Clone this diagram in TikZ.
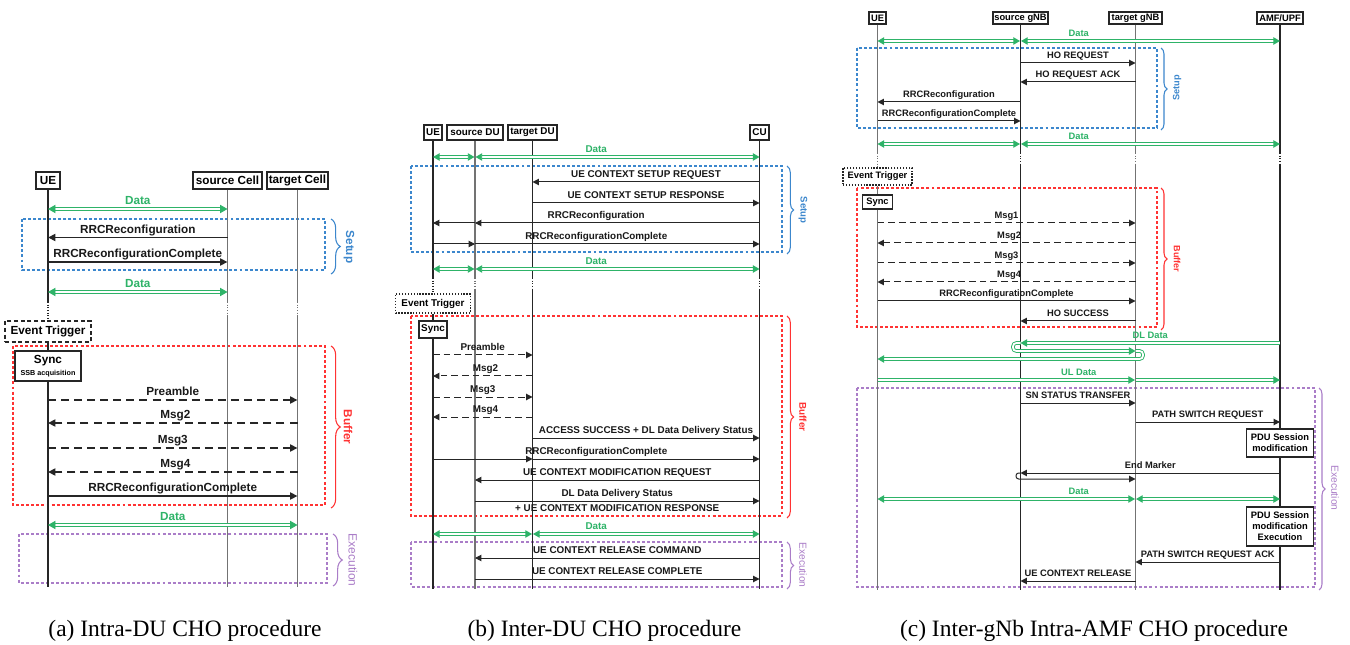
\documentclass[tikz,border=0pt]{standalone}
\usepackage{fontspec}
\setmainfont{Liberation Sans}
\newfontfamily\capfont{Liberation Serif}
\usetikzlibrary{arrows.meta,decorations.pathreplacing}
\definecolor{cgreen}{RGB}{46,179,104}
\definecolor{cblue}{RGB}{60,135,205}
\definecolor{cred}{RGB}{255,51,51}
\definecolor{cpurple}{RGB}{170,125,200}
\newcommand\fA{\fontsize{8.8}{10}\selectfont\bfseries}
\newcommand\fB{\fontsize{7.4}{8.5}\selectfont\bfseries}
\newcommand\fC{\fontsize{7}{8.2}\selectfont\bfseries}
\tikzset{
  tA/.tip={Triangle[length=5.6pt,width=5.4pt]},
  tB/.tip={Triangle[length=4.8pt,width=4.8pt]},
  tG/.tip={Triangle[length=5pt,width=5.6pt]},
  tGA/.tip={Triangle[length=5.6pt,width=6.2pt]},
  hdr/.style={draw=black!85, line width=1.1pt, fill=white, inner sep=0pt},
  lifeK/.style={draw=black!85, line width=0.8pt},
  lifeG/.style={draw=black!55, line width=0.8pt},
  dotK/.style={lifeK, dash pattern=on 0.8pt off 1.2pt},
  dotG/.style={lifeG, dash pattern=on 0.8pt off 1.2pt},
  msgA/.style={draw=black!85, line width=0.85pt, -tA},
  msgB/.style={draw=black!85, line width=0.75pt, -tB},
  dashA/.style={msgA, dash pattern=on 6pt off 3.8pt},
  dashB/.style={msgB, dash pattern=on 5pt off 3pt},
  lab/.style={anchor=base, inner sep=0pt, yshift=3.2pt, text=black!90},
  dlab/.style={lab, text=cgreen},
  datbase/.style={draw=cgreen, double=white, double distance=1.3pt, line width=0.7pt},
  dat2/.style={datbase, tG-tG},
  dat1/.style={datbase, -tG},
  datA/.style={datbase, tGA-tGA},
  setupbox/.style={draw=cblue, line width=0.9pt, dash pattern=on 2.2pt off 1.6pt},
  bufbox/.style={draw=cred, line width=0.9pt, dash pattern=on 2.2pt off 1.6pt},
  exebox/.style={draw=cpurple, line width=0.9pt, dash pattern=on 2.2pt off 1.6pt},
  brc/.style={decorate, decoration={brace, amplitude=#1}, line width=0.8pt},
  brc/.default=6pt,
  vlab/.style={rotate=-90, inner sep=0pt},
  etA/.style={draw=black!85, line width=1pt, dash pattern=on 3pt off 2pt, fill=white, inner sep=0pt},
  etB/.style={draw=black!85, line width=0.9pt, dash pattern=on 1pt off 1.2pt, fill=white, inner sep=0pt},
  capt/.style={anchor=base, inner sep=0pt, font=\capfont\fontsize{17.6}{20}\selectfont}
}
\begin{document}
\begin{tikzpicture}[x=0.75pt, y=-0.75pt]
\fill[white] (0,0) rectangle (1350,645);
\useasboundingbox (0,0) rectangle (1350,645);

% ================= (a) Intra-DU =================
\draw[setupbox] (22,219) rectangle (325,270);
\draw[bufbox] (13,346) rectangle (325,505);
\draw[exebox] (19,534) rectangle (327,583);
\draw[brc=7pt, draw=cblue] (331,219) -- (331,274);
\draw[brc=7pt, draw=cred] (331,346) -- (331,508);
\draw[brc=7pt, draw=cpurple] (333,534) -- (333,586);
\node[vlab, text=cblue, font=\fA] (a-setup) at (349,247) {Setup};
\node[vlab, text=cred, font=\fA] (a-buffer) at (348,427) {Buffer};
\node[vlab, text=cpurple, font=\fontsize{9}{10}\selectfont] (a-exec) at (353,560) {Execution};

\node[hdr, minimum width=18pt, minimum height=12.75pt, font=\fA] (a-ue) at (48,180.5) {UE};
\node[hdr, minimum width=51.75pt, minimum height=12.75pt, font=\fA] (a-src) at (227.5,180.5) {source Cell};
\node[hdr, minimum width=45.75pt, minimum height=12.75pt, font=\fA] (a-tgt) at (297.5,180.5) {target Cell};
\node[etA, minimum width=64.5pt, minimum height=15.75pt, font=\fA] (a-et) at (a-ue |- 0,331.5) {Event Trigger};
\node[hdr, minimum width=49.5pt, minimum height=22.5pt, align=center, font=\fA] (a-sync) at (a-ue |- 0,366)
  {Sync\\[-1.5pt]{\fontsize{5.4}{6}\selectfont SSB acquisition}};

\draw[lifeK] (a-ue.south) -- (a-ue |- 0,302);
\draw[dotK] (a-ue |- 0,302) -- (a-et.north);
\draw[lifeK] (a-et.south) -- (a-sync.north);
\draw[lifeK] (a-sync.south) -- (a-ue |- 0,587);
\foreach \n in {a-src,a-tgt} {
  \draw[lifeG] (\n.south) -- (\n |- 0,302);
  \draw[dotG] (\n |- 0,302) -- (\n |- 0,315);
  \draw[lifeG] (\n |- 0,315) -- (\n |- 0,587);
}

\draw[datA] (a-ue |- 0,209) -- (a-src |- 0,209) node[dlab, midway, font=\fA] {Data};
\draw[msgA] (a-src |- 0,237.5) -- (a-ue |- 0,237.5) node[lab, midway, font=\fA] {RRCReconfiguration};
\draw[msgA] (a-ue |- 0,262) -- (a-src |- 0,262) node[lab, midway, font=\fA] {RRCReconfigurationComplete};
\draw[datA] (a-ue |- 0,292) -- (a-src |- 0,292) node[dlab, midway, font=\fA] {Data};
\draw[dashA] (a-ue |- 0,400) -- (a-tgt |- 0,400) node[lab, midway, font=\fA] {Preamble};
\draw[dashA] (a-tgt |- 0,423) -- (a-ue |- 0,423) node[lab, midway, xshift=2pt, font=\fA] {Msg2};
\draw[dashA] (a-ue |- 0,448) -- (a-tgt |- 0,448) node[lab, midway, font=\fA] {Msg3};
\draw[dashA] (a-tgt |- 0,472) -- (a-ue |- 0,472) node[lab, midway, xshift=2pt, font=\fA] {Msg4};
\draw[msgA] (a-ue |- 0,496) -- (a-tgt |- 0,496) node[lab, midway, font=\fA] {RRCReconfigurationComplete};
\draw[datA] (a-ue |- 0,525) -- (a-tgt |- 0,525) node[dlab, midway, font=\fA] {Data};

\node[capt] (cap-a) at (185,636) {(a) Intra-DU CHO procedure};

% ================= (b) Inter-DU =================
\draw[setupbox] (411,166) rectangle (782,252);
\draw[bufbox] (411,316) rectangle (782,516);
\draw[exebox] (411,542) rectangle (782,587);
\draw[brc=5pt, draw=cblue] (787,166) -- (787,254);
\draw[brc=5pt, draw=cred] (787,316) -- (787,518);
\draw[brc=5pt, draw=cpurple] (787,542) -- (787,589);
\node[vlab, text=cblue, font=\fontsize{7.2}{8}\selectfont\bfseries] (b-setup) at (803,210) {Setup};
\node[vlab, text=cred, font=\fontsize{7.4}{8}\selectfont\bfseries] (b-buffer) at (803,417) {Buffer};
\node[vlab, text=cpurple, font=\fontsize{7.7}{8}\selectfont] (b-exec) at (803,565) {Execution};

\node[hdr, minimum width=13.5pt, minimum height=11.25pt, font=\fB] (b-ue) at (433,132.5) {UE};
\node[hdr, minimum width=42pt, minimum height=11.25pt, font=\fB] (b-sdu) at (475,132.5) {source DU};
\node[hdr, minimum width=36.75pt, minimum height=11.25pt, font=\fB] (b-tdu) at (532.5,132.5) {target DU};
\node[hdr, minimum width=14.25pt, minimum height=11.25pt, font=\fB] (b-cu) at (759.5,132.5) {CU};
\node[etB, minimum width=56.25pt, minimum height=14.25pt, font=\fB] (b-et) at (b-ue |- 0,303.5) {Event Trigger};
\node[hdr, minimum width=21pt, minimum height=12.75pt, font=\fB] (b-sync) at (b-ue |- 0,329.5) {Sync};

\draw[lifeK] (b-ue.south) -- (b-ue |- 0,278);
\draw[dotK] (b-ue |- 0,278) -- (b-et.north);
\draw[lifeK] (b-et.south) -- (b-sync.north);
\draw[lifeK] (b-sync.south) -- (b-ue |- 0,589);
\draw[lifeG] (b-sdu.south) -- (b-sdu |- 0,278);
\draw[dotG] (b-sdu |- 0,278) -- (b-sdu |- 0,290);
\draw[lifeG] (b-sdu |- 0,290) -- (b-sdu |- 0,589);
\foreach \n in {b-tdu,b-cu} {
  \draw[lifeK] (\n.south) -- (\n |- 0,278);
  \draw[dotK] (\n |- 0,278) -- (\n |- 0,290);
  \draw[lifeK] (\n |- 0,290) -- (\n |- 0,589);
}

\draw[dat2, shorten >=0.4pt] (b-ue |- 0,157) -- (b-sdu |- 0,157);
\draw[dat2, shorten <=0.4pt] (b-sdu |- 0,157) -- (b-cu |- 0,157);
\path (b-ue |- 0,157) -- (b-cu |- 0,157) node[dlab, midway, font=\fB] {Data};
\draw[msgB] (b-cu |- 0,182) -- (b-tdu |- 0,182) node[lab, midway, font=\fB] {UE CONTEXT SETUP REQUEST};
\draw[msgB] (b-tdu |- 0,203) -- (b-cu |- 0,203) node[lab, midway, font=\fB] {UE CONTEXT SETUP RESPONSE};
\draw[msgB] (b-cu |- 0,223) -- (b-sdu |- 0,223);
\draw[msgB] (b-sdu |- 0,223) -- (b-ue |- 0,223);
\path (b-ue |- 0,223) -- (b-cu |- 0,223) node[lab, midway, font=\fB] {RRCReconfiguration};
\draw[msgB] (b-ue |- 0,244) -- (b-sdu |- 0,244);
\draw[msgB] (b-sdu |- 0,244) -- (b-cu |- 0,244);
\path (b-ue |- 0,244) -- (b-cu |- 0,244) node[lab, midway, font=\fB] {RRCReconfigurationComplete};
\draw[dat2, shorten >=0.4pt] (b-ue |- 0,269) -- (b-sdu |- 0,269);
\draw[dat2, shorten <=0.4pt] (b-sdu |- 0,269) -- (b-cu |- 0,269);
\path (b-ue |- 0,269) -- (b-cu |- 0,269) node[dlab, midway, font=\fB] {Data};

\draw[dashB] (b-ue |- 0,355) -- (b-tdu |- 0,355) node[lab, midway, font=\fB] {Preamble};
\draw[dashB] (b-tdu |- 0,376) -- (b-ue |- 0,376) node[lab, midway, xshift=2pt, font=\fB] {Msg2};
\draw[dashB] (b-ue |- 0,397) -- (b-tdu |- 0,397) node[lab, midway, font=\fB] {Msg3};
\draw[dashB] (b-tdu |- 0,417) -- (b-ue |- 0,417) node[lab, midway, xshift=2pt, font=\fB] {Msg4};
\draw[msgB] (b-tdu |- 0,438) -- (b-cu |- 0,438) node[lab, midway, font=\fB] {ACCESS SUCCESS + DL Data Delivery Status};
\draw[msgB] (b-ue |- 0,459) -- (b-tdu |- 0,459);
\draw[msgB] (b-tdu |- 0,459) -- (b-cu |- 0,459);
\path (b-ue |- 0,459) -- (b-cu |- 0,459) node[lab, midway, font=\fB] {RRCReconfigurationComplete};
\draw[msgB] (b-cu |- 0,480) -- (b-sdu |- 0,480) node[lab, midway, font=\fB] {UE CONTEXT MODIFICATION REQUEST};
\draw[msgB] (b-sdu |- 0,501) -- (b-cu |- 0,501)
  node[lab, midway, font=\fB] {DL Data Delivery Status}
  node[lab, midway, yshift=-10.7pt, font=\fB] {+ UE CONTEXT MODIFICATION RESPONSE};
\draw[dat2, shorten >=0.4pt] (b-ue |- 0,534) -- (b-tdu |- 0,534);
\draw[dat2, shorten <=0.4pt] (b-tdu |- 0,534) -- (b-cu |- 0,534);
\path (b-ue |- 0,534) -- (b-cu |- 0,534) node[dlab, midway, font=\fB] {Data};
\draw[msgB] (b-cu |- 0,558) -- (b-sdu |- 0,558) node[lab, midway, font=\fB] {UE CONTEXT RELEASE COMMAND};
\draw[msgB] (b-sdu |- 0,579) -- (b-cu |- 0,579) node[lab, midway, font=\fB] {UE CONTEXT RELEASE COMPLETE};

\node[capt] (cap-b) at (604.5,636) {(b) Inter-DU CHO procedure};

% ================= (c) Inter-gNB Intra-AMF =================
\draw[setupbox] (857,48) rectangle (1157,128);
\draw[bufbox] (857,188) rectangle (1157,327);
\draw[exebox] (857,388) rectangle (1315,587);
\draw[brc=4.5pt, draw=cblue] (1161,48) -- (1161,130);
\draw[brc=4.5pt, draw=cred] (1161,188) -- (1161,330);
\draw[brc=4.5pt, draw=cpurple] (1319,388) -- (1319,590);
\node[rotate=90, inner sep=0pt, text=cblue, font=\fontsize{6.9}{8}\selectfont\bfseries] (c-setup) at (1177,88) {Setup};
\node[vlab, text=cred, font=\fontsize{6.8}{8}\selectfont\bfseries] (c-buffer) at (1177,259) {Buffer};
\node[vlab, text=cpurple, font=\fontsize{7.7}{8}\selectfont] (c-exec) at (1335,488) {Execution};

\node[hdr, minimum width=12.75pt, minimum height=9pt, font=\fC] (c-ue) at (877.5,18) {UE};
\node[hdr, minimum width=41.25pt, minimum height=9pt, font=\fC] (c-src) at (1020.5,18) {source gNB};
\node[hdr, minimum width=39.75pt, minimum height=9pt, font=\fC] (c-tgt) at (1135.5,18) {target gNB};
\node[hdr, minimum width=34.5pt, minimum height=9pt, font=\fC] (c-amf) at (1280,18) {AMF/UPF};
\node[etB, minimum width=51.75pt, minimum height=12.75pt, font=\fC] (c-et) at (c-ue |- 0,176.5) {Event Trigger};
\node[hdr, minimum width=22.5pt, minimum height=10.5pt, font=\fC] (c-sync) at (c-ue |- 0,202) {Sync};
\node[hdr, minimum width=50.25pt, minimum height=21pt, align=center, font=\fC] (c-pdu) at (c-amf |- 0,443)
  {PDU Session\\modification};
\node[hdr, minimum width=50.25pt, minimum height=29.25pt, align=center, font=\fC] (c-pdux) at (c-amf |- 0,526.5)
  {PDU Session\\modification\\Execution};

\draw[lifeG] (c-ue.south) -- (c-ue |- 0,153);
\draw[dotG] (c-ue |- 0,153) -- (c-et.north);
\draw[lifeG] (c-et.south) -- (c-sync.north);
\draw[lifeG] (c-sync.south) -- (c-ue |- 0,590);
\draw[lifeK] (c-src.south) -- (c-src |- 0,153);
\draw[dotK] (c-src |- 0,153) -- (c-src |- 0,165);
\draw[lifeK] (c-src |- 0,165) -- (c-src |- 0,590);
\draw[lifeG] (c-tgt.south) -- (c-tgt |- 0,153);
\draw[dotG] (c-tgt |- 0,153) -- (c-tgt |- 0,165);
\draw[lifeG] (c-tgt |- 0,165) -- (c-tgt |- 0,590);
\draw[lifeK] (c-amf.south) -- (c-amf |- 0,153);
\draw[dotK] (c-amf |- 0,153) -- (c-amf |- 0,165);
\draw[lifeK] (c-amf |- 0,165) -- (c-pdu.north);
\draw[lifeK] (c-pdu.south) -- (c-pdux.north);
\draw[lifeK] (c-pdux.south) -- (c-amf |- 0,590);

\draw[dat2, shorten >=0.4pt] (c-ue |- 0,41) -- (c-src |- 0,41);
\draw[dat2, shorten <=0.4pt] (c-src |- 0,41) -- (c-amf |- 0,41);
\path (c-ue |- 0,41) -- (c-amf |- 0,41) node[dlab, midway, font=\fC] {Data};
\draw[msgB] (c-src |- 0,63) -- (c-tgt |- 0,63) node[lab, midway, font=\fC] {HO REQUEST};
\draw[msgB] (c-tgt |- 0,82) -- (c-src |- 0,82) node[lab, midway, font=\fC] {HO REQUEST ACK};
\draw[msgB] (c-src |- 0,102) -- (c-ue |- 0,102) node[lab, midway, font=\fC] {RRCReconfiguration};
\draw[msgB] (c-ue |- 0,121) -- (c-src |- 0,121) node[lab, midway, font=\fC] {RRCReconfigurationComplete};
\draw[dat2, shorten >=0.4pt] (c-ue |- 0,144) -- (c-src |- 0,144);
\draw[dat2, shorten <=0.4pt] (c-src |- 0,144) -- (c-amf |- 0,144);
\path (c-ue |- 0,144) -- (c-amf |- 0,144) node[dlab, midway, font=\fC] {Data};

\draw[dashB] (c-ue |- 0,223) -- (c-tgt |- 0,223) node[lab, midway, font=\fC] {Msg1};
\draw[dashB] (c-tgt |- 0,243) -- (c-ue |- 0,243) node[lab, midway, xshift=2pt, font=\fC] {Msg2};
\draw[dashB] (c-ue |- 0,263) -- (c-tgt |- 0,263) node[lab, midway, font=\fC] {Msg3};
\draw[dashB] (c-tgt |- 0,282) -- (c-ue |- 0,282) node[lab, midway, xshift=2pt, font=\fC] {Msg4};
\draw[msgB] (c-ue |- 0,301) -- (c-tgt |- 0,301) node[lab, midway, font=\fC] {RRCReconfigurationComplete};
\draw[msgB] (c-tgt |- 0,321) -- (c-src |- 0,321) node[lab, midway, font=\fC] {HO SUCCESS};

% downlink data forwarded through the source towards the target, then to the UE
\draw[datbase, rounded corners=2.5pt, -tG] (c-tgt |- 0,351) -| (1143,359) -- (c-ue |- 0,359);
\draw[datbase, rounded corners=2.5pt, -tG] (c-src |- 0,343) -| (1013,351) -- (c-tgt |- 0,351);
\draw[dat1] (c-amf |- 0,343) -- (c-src |- 0,343) node[dlab, midway, font=\fC] {DL Data};
\draw[dat1, shorten >=0.4pt] (c-ue |- 0,380) -- (c-tgt |- 0,380);
\draw[dat1] (c-tgt |- 0,380) -- (c-amf |- 0,380);
\path (c-ue |- 0,380) -- (c-amf |- 0,380) node[dlab, midway, font=\fC] {UL Data};

\draw[msgB] (c-src |- 0,403) -- (c-tgt |- 0,403) node[lab, midway, font=\fC] {SN STATUS TRANSFER};
\draw[msgB] (c-tgt |- 0,422) -- (c-amf |- 0,422) node[lab, midway, font=\fC] {PATH SWITCH REQUEST};
\draw[msgB] (c-amf |- 0,473) -- (c-src |- 0,473) node[lab, midway, font=\fC] {End Marker};
\draw[msgB, rounded corners=2pt] (c-src |- 0,473) -| (1016,479) -- (c-tgt |- 0,479);
\draw[dat2, shorten >=0.4pt] (c-ue |- 0,499) -- (c-tgt |- 0,499);
\draw[dat2, shorten <=0.4pt] (c-tgt |- 0,499) -- (c-amf |- 0,499);
\path (c-ue |- 0,499) -- (c-amf |- 0,499) node[dlab, midway, font=\fC] {Data};
\draw[msgB] (c-amf |- 0,562) -- (c-tgt |- 0,562) node[lab, midway, font=\fC] {PATH SWITCH REQUEST ACK};
\draw[msgB] (c-tgt |- 0,581) -- (c-src |- 0,581) node[lab, midway, font=\fC] {UE CONTEXT RELEASE};

\node[capt] (cap-c) at (1094,636) {(c) Inter-gNb Intra-AMF CHO procedure};
\end{tikzpicture}
\end{document}
